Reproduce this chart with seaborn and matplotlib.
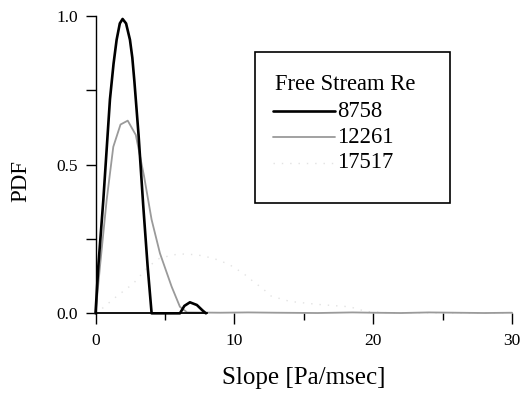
import numpy as np
import pandas as pd
import seaborn as sns
import matplotlib
matplotlib.use("Agg")
import matplotlib.pyplot as plt
from matplotlib.patches import Rectangle
from matplotlib.ticker import MultipleLocator, FormatStrFormatter

# ---- data ----
x_8758 = [0, 0.2, 0.56, 1.04, 1.3, 1.52, 1.75, 1.95, 2.2, 2.48, 2.65, 2.8, 3.1, 3.44, 3.75, 4.04,
          6.08, 6.4, 6.8, 7.3, 7.7, 7.95]
y_8758 = [0, 0.157, 0.38, 0.72, 0.84, 0.92, 0.975, 0.99, 0.975, 0.92, 0.86, 0.78, 0.6, 0.36, 0.16, 0,
          0, 0.025, 0.037, 0.028, 0.01, 0]

x_12261 = [0, 0.32, 0.8, 1.28, 1.8, 2.32, 2.9, 3.5, 4.04, 4.64, 5.48, 6.08, 6.6,
           9, 11, 13, 16, 18.5, 20, 22, 24, 26, 28, 30]
y_12261 = [0, 0.157, 0.38, 0.56, 0.635, 0.648, 0.6, 0.46, 0.315, 0.202, 0.09, 0.022, 0.003,
           0.002, 0.003, 0.002, 0.001, 0.003, 0.002, 0.001, 0.003, 0.002, 0.001, 0.002]

x_17517 = [0, 0.32, 1.52, 2.72, 3.8, 4.64, 6.0, 7.3, 8.5, 9.6, 10.63, 11.28, 12.07, 12.65,
           14, 16, 18.3, 19.5, 21, 24, 27, 30]
y_17517 = [0, 0.01, 0.057, 0.10, 0.157, 0.186, 0.2, 0.197, 0.185, 0.165, 0.135, 0.11, 0.082,
           0.058, 0.04, 0.03, 0.022, 0.006, 0.002, 0.002, 0.001, 0.002]

series_names = ["8758", "12261", "17517"]
legend_title = "Free Stream Re"
x_label = "Slope [Pa/msec]"
y_label = "PDF"

sns.set_theme(style="ticks")
plt.rcParams["font.family"] = ["Liberation Serif", "DejaVu Serif"]

fig = plt.figure(figsize=(5.26, 3.95), dpi=100)
ax = fig.add_axes([0.1816, 0.2068, 0.7918, 0.7527])

styles = [
    dict(color="black", lw=1.9),
    dict(color="#9a9a9a", lw=1.3),
    dict(color="#e2e2e2", lw=1.0, linestyle=(0, (1, 5))),
]
data = [(x_8758, y_8758), (x_12261, y_12261), (x_17517, y_17517)]
for (xs, ys), st in zip(data[::-1], styles[::-1]):
    sns.lineplot(x=xs, y=ys, ax=ax, sort=False, clip_on=False, **st)

ax.set_xlim(0, 30)
ax.set_ylim(0, 1.0)
ax.xaxis.set_major_locator(MultipleLocator(10))
ax.xaxis.set_minor_locator(MultipleLocator(5))
ax.yaxis.set_major_locator(MultipleLocator(0.5))
ax.yaxis.set_minor_locator(MultipleLocator(0.25))
ax.yaxis.set_major_formatter(FormatStrFormatter("%.1f"))

for s in ["top", "right"]:
    ax.spines[s].set_visible(False)
ax.spines["left"].set_linewidth(1.0)
ax.spines["left"].set_color("black")
ax.spines["bottom"].set_color("black")
ax.spines["bottom"].set_linewidth(1.3)
ax.spines["bottom"].set_bounds(0, 8)

ax.tick_params(axis="x", which="major", direction="out", length=8, width=1.0,
               pad=6, labelsize=12.5, colors="black")
ax.tick_params(axis="x", which="minor", direction="out", length=5, width=1.0, colors="black")
ax.tick_params(axis="y", which="both", direction="out", length=7.5, width=1.0,
               pad=5, labelsize=12.5, colors="black")

ax.set_xlabel(x_label, fontsize=18, color="black")
ax.set_ylabel(y_label, fontsize=16.5, color="black")
ax.xaxis.set_label_coords(0.5, -0.18)
ax.yaxis.set_label_coords(-0.155, 0.445)

# ---- legend box (drawn in axes coordinates) ----
ax.add_patch(Rectangle((0.383, 0.372), 0.468, 0.508, transform=ax.transAxes,
                       facecolor="white", edgecolor="black", lw=1.2, zorder=5))
ax.text(0.431, 0.768, legend_title, transform=ax.transAxes, fontsize=16.3,
        ha="left", va="center", zorder=6, color="black")
row_y = [0.680, 0.593, 0.506]
for name, st, yy in zip(series_names, styles, row_y):
    ax.plot([0.426, 0.575], [yy, yy], transform=ax.transAxes, zorder=6, **st)
    ax.text(0.580, yy, name, transform=ax.transAxes, fontsize=16.3,
            ha="left", va="center", zorder=6, color="black")

fig.savefig("out.png", dpi=100)
